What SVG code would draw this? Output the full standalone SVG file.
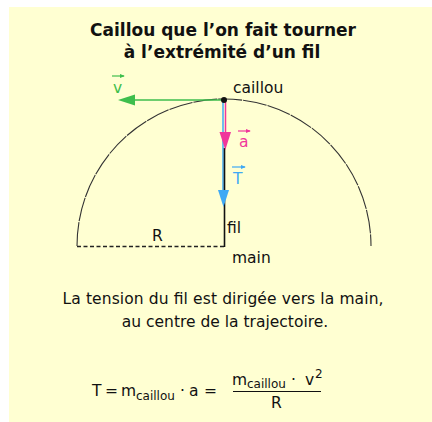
<svg xmlns="http://www.w3.org/2000/svg" width="432" height="422" viewBox="0 0 432 422">
<style>
text{font-family:"DejaVu Sans","Liberation Sans",sans-serif;fill:#111}
.t{font-size:17px;font-weight:bold;text-anchor:middle}
.b{font-size:15.5px;text-anchor:middle}
.l{font-size:15.5px}
.f{font-size:15.5px}
.s{font-size:12px}
</style>
<defs>
<marker id="ov" viewBox="0 0 6 6" refX="5" refY="3" markerWidth="5" markerHeight="5" markerUnits="userSpaceOnUse" orient="auto"><path d="M0,0.5 L6,3 L0,5.5 Z" fill="context-stroke"/></marker>
</defs>
<rect x="9" y="7" width="423" height="415" fill="#FFFFD2"/>
<g id="title">
<text class="t" x="223" y="36">Caillou que l’on fait tourner</text>
<text class="t" x="222" y="58">à l’extrémité d’un fil</text>
</g>
<g id="connectors">
<path d="M77,246 A147,147 0 0 1 371,246" fill="none" stroke="#333" stroke-width="1.1" stroke-dasharray="24 1"/>
<line x1="77" y1="246.5" x2="224" y2="246.5" stroke="#222" stroke-width="1.3" stroke-dasharray="4 2.5"/>
<line x1="223" y1="100" x2="223" y2="192" stroke="#3FA9F5" stroke-width="1.5"/>
<line x1="225.5" y1="100" x2="225.5" y2="135" stroke="#F0369B" stroke-width="1.5"/>
<line x1="224.5" y1="148" x2="224.5" y2="247" stroke="#111" stroke-width="1.6"/>
<polygon points="218,190 229,190 223.5,207" fill="#3FA9F5"/>
<polygon points="219.5,132 231,132 225.3,150" fill="#F0369B"/>
<line x1="224" y1="100" x2="132" y2="100" stroke="#3EBE4C" stroke-width="1.5"/>
<polygon points="118,100 135,94.5 135,105.5" fill="#3EBE4C"/>
</g>
<g id="caillou">
<circle cx="224" cy="100" r="3" fill="#111"/>
<text class="l" x="233" y="93">caillou</text>
</g>
<g id="v-label">
<line x1="112" y1="76" x2="124" y2="76" stroke="#3EBE4C" stroke-width="1.2" marker-end="url(#ov)"/>
<text class="l" x="113" y="93" style="fill:#3EBE4C">v</text>
</g>
<g id="a-label">
<line x1="238" y1="131" x2="250" y2="131" stroke="#F0369B" stroke-width="1.2" marker-end="url(#ov)"/>
<text class="l" x="239" y="147" style="fill:#F0369B">a</text>
</g>
<g id="T-label">
<line x1="232" y1="167" x2="245" y2="167" stroke="#3FA9F5" stroke-width="1.2" marker-end="url(#ov)"/>
<text class="l" x="233" y="184" style="fill:#3FA9F5">T</text>
</g>
<g id="fil"><text class="l" x="227" y="233">fil</text></g>
<g id="main"><text class="l" x="232" y="263">main</text></g>
<g id="R"><text class="l" x="152" y="241">R</text></g>
<g id="caption">
<text class="b" x="223" y="304" textLength="321">La tension du fil est dirigée vers la main,</text>
<text class="b" x="225" y="327">au centre de la trajectoire.</text>
</g>
<g id="formula">
<text class="f" x="92" y="396">T</text>
<text class="f" x="105" y="396">=</text>
<text class="f" x="121" y="396">m</text>
<text class="s" x="136" y="400">caillou</text>
<text class="f" x="180" y="396">·</text>
<text class="f" x="189" y="396">a</text>
<text class="f" x="204" y="396">=</text>
<text class="f" x="232" y="385">m</text>
<text class="s" x="247" y="388">caillou</text>
<text class="f" x="291" y="385">·</text>
<text class="f" x="305" y="385">v</text>
<text class="s" x="315" y="378">2</text>
<line x1="233" y1="391.5" x2="321" y2="391.5" stroke="#111" stroke-width="1.2"/>
<text class="f" x="271" y="408">R</text>
</g>
</svg>
